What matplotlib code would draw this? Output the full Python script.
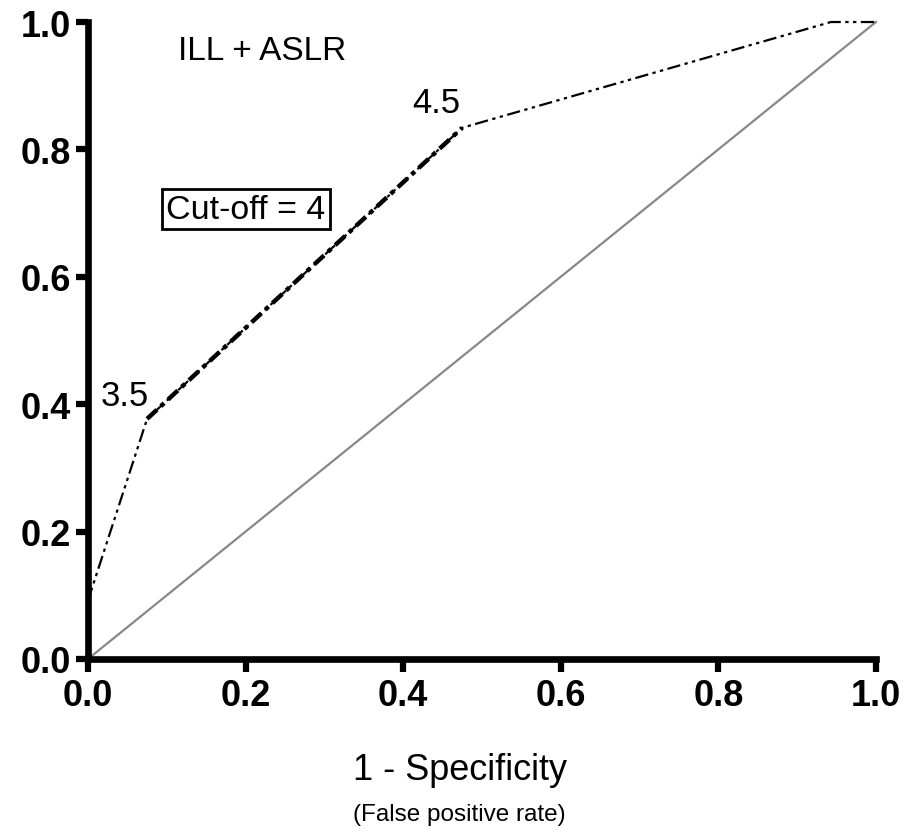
import matplotlib
matplotlib.use("Agg")
import matplotlib.pyplot as plt

plt.rcParams['font.family'] = ['Liberation Sans', 'DejaVu Sans']

fpr = [0.0, 0.075, 0.475, 0.943, 1.0]
tpr = [0.092, 0.377, 0.834, 1.0, 1.0]
cut_labels = ["3.5", "4.5"]
ticks = [0.0, 0.2, 0.4, 0.6, 0.8, 1.0]
tick_labels = ["0.0", "0.2", "0.4", "0.6", "0.8", "1.0"]

fig = plt.figure(figsize=(9.14, 8.37), dpi=100)
ax = fig.add_axes([0.0963, 0.2115, 0.862, 0.761])

ax.plot([0, 1], [0, 1], color='#888888', lw=1.6, clip_on=False, zorder=2)
dd = (0, (6, 2, 1.5, 2, 1.5, 2))
ax.plot(fpr, tpr, color='black', lw=1.6, linestyle=dd, clip_on=False, zorder=3)
ax.plot(fpr[1:3], tpr[1:3], color='black', lw=3.2, linestyle=(0, (3, 1.2, 1, 1.2)), clip_on=False, zorder=3)

ax.text(0.221, 0.955, "ILL + ASLR", fontsize=24, ha='center', va='center')
ax.text(0.047, 0.413, cut_labels[0], fontsize=25, ha='center', va='center')
ax.text(0.442, 0.873, cut_labels[1], fontsize=25, ha='center', va='center')
ax.text(0.2, 0.706, "Cut-off = 4", fontsize=24.5, ha='center', va='center',
        bbox=dict(boxstyle='square,pad=0.13', fc='white', ec='black', lw=2))

ax.set_xlim(0, 1)
ax.set_ylim(0, 1)
ax.set_xticks(ticks)
ax.set_xticklabels(tick_labels, fontsize=26, fontweight='bold')
ax.set_yticks(ticks)
ax.set_yticklabels(tick_labels, fontsize=26, fontweight='bold')
ax.tick_params(axis='both', length=9, width=4.5, direction='out', pad=3)
ax.tick_params(axis='x', pad=5)
for s in ['top', 'right']:
    ax.spines[s].set_visible(False)
for s in ['left', 'bottom']:
    ax.spines[s].set_linewidth(4.8)

fig.text(0.503, 0.079, "1 - Specificity", fontsize=26, ha='center', va='center')
fig.text(0.503, 0.026, "(False positive rate)", fontsize=17.5, ha='center', va='center')

fig.savefig("out.png", dpi=100)
